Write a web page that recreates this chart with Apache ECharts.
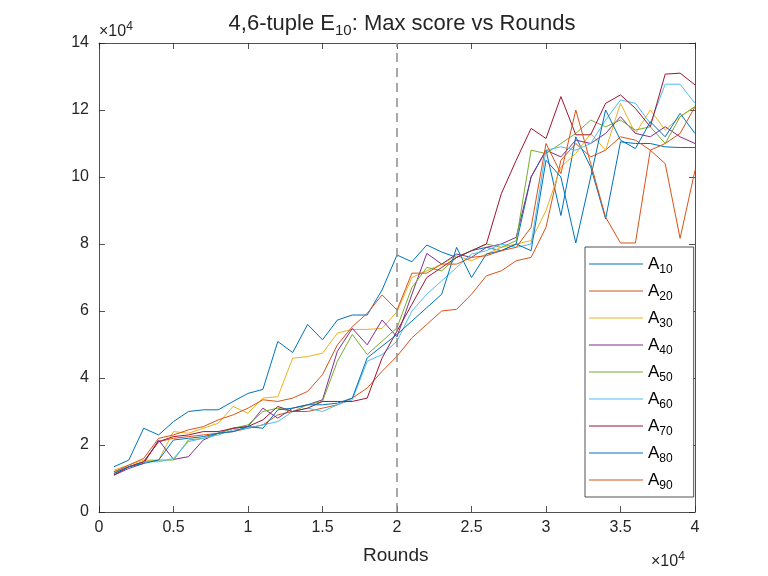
<!DOCTYPE html>
<html lang="en">
<head>
    <meta charset="UTF-8">
    <title>Max score vs Rounds</title>
    <script src="https://cdn.jsdelivr.net/npm/echarts@6/dist/echarts.min.js"></script>
    <style>
        html, body {margin: 0; padding: 0; background: #fff;}
        #main {width: 768px; height: 576px;}
    </style>
</head>
<body>
<div id="main"></div>
<script>
    // rounds, in thousands
    var rounds = [1, 2, 3, 4, 5, 6, 7, 8, 9, 10, 11, 12, 13, 14, 15, 16, 17, 18, 19, 20,
        21, 22, 23, 24, 25, 26, 27, 28, 29, 30, 31, 32, 33, 34, 35, 36, 37, 38, 39, 40];

    // max score, in thousands
    var a10 = [13.5, 15.5, 25, 23, 27, 30, 30.5, 30.5, 33, 35.4, 36.6, 50.9, 47.6, 56, 51.4, 57.3, 58.8, 58.8, 66.3, 76.7,
        74.7, 79.7, 77.6, 76, 78, 79, 78, 80, 100, 108, 88.5, 112, 103, 87.5, 110.5, 110, 110, 109, 108.8, 108.8];
    var a20 = [11.5, 13.5, 15, 21, 22, 22.5, 23, 23.5, 24, 25, 26, 29, 30, 30, 31, 32, 34, 37, 42, 46.5,
        52, 56, 60, 60.5, 65, 70.5, 72, 75, 76, 85, 105, 110, 106, 108, 112, 111, 108, 110, 113, 121];
    var a30 = [12.5, 14, 15.5, 15.5, 24, 23.5, 25, 26.5, 31.5, 29.5, 34, 34.4, 45.9, 46.4, 47.4, 53.4, 54.5, 54.5, 54.8, 59.8,
        70, 72, 74, 76.5, 75, 77, 79, 80, 81, 90, 103, 107, 113, 108, 122, 113, 120, 114, 118, 121];
    var a40 = [11, 13, 14.5, 21.5, 15.7, 16.5, 21.5, 23.5, 25, 25.5, 31, 28, 31, 32, 33.5, 48, 54.8, 49.9, 57.3, 52.3,
        65, 77.2, 74, 77, 76, 79, 80, 82, 100, 108, 106, 111, 110, 113, 118, 113, 112, 115, 112, 110];
    var a50 = [12, 13.5, 15, 15.5, 15.5, 21.5, 22, 23.5, 25, 26, 30, 31, 30, 32, 33, 45, 53, 47, 51, 55,
        67, 73, 72, 76, 78, 80, 79, 81, 108, 107, 110, 113, 117, 115, 117, 114, 115, 110, 118, 121];
    var a60 = [12, 13.5, 15, 15, 16, 21, 22, 23, 24.5, 25, 26, 27, 30, 31, 30, 32, 33.5, 45, 47, 51,
        60, 65, 69, 73, 77, 78, 80, 79, 80, 108, 109, 108, 110, 117, 123, 122, 116, 127.7, 127.7, 122];
    var a70 = [11, 13.5, 15, 21, 22.5, 23, 24, 24, 25, 25.5, 27.5, 31.5, 30, 31, 33, 33, 33, 34, 46, 54,
        62, 70, 73, 76, 78, 80, 95, 105, 114.5, 111.5, 124, 112.6, 112.6, 122, 124.5, 120.5, 115, 130.7, 131, 127.5];
    var a80 = [11.5, 13.5, 14.5, 15.5, 21.5, 22, 22.5, 23.5, 24, 25.5, 25, 30.5, 31, 32, 32, 32.5, 34, 46, 49.5, 53,
        57, 61, 65, 79, 70, 77, 78, 80, 78, 105, 100, 80.3, 100, 120, 111, 108.5, 116.5, 112, 119, 113];
    var a90 = [12, 14, 16, 22, 23, 24.5, 25.5, 27.5, 29, 31, 33.5, 33, 34, 36, 41, 49.9, 55.3, 59.3, 64.8, 60.3,
        71.3, 71.3, 74, 74, 76, 76.5, 78, 79, 85, 110, 101, 120, 104, 88, 80.3, 80.3, 108, 104, 81.7, 102];

    var seriesNames = ['10', '20', '30', '40', '50', '60', '70', '80', '90'];
    var seriesValues = [a10, a20, a30, a40, a50, a60, a70, a80, a90];
    var colors = ['#0072BD', '#D95319', '#EDB120', '#7E2F8E', '#77AC30', '#4DBEEE', '#A2142F', '#0072BD', '#D95319'];

    var xTicks = ['0', '0.5', '1', '1.5', '2', '2.5', '3', '3.5', '4'];
    var yTicks = ['0', '2', '4', '6', '8', '10', '12', '14'];

    var font = 'Liberation Sans, Arial, Helvetica, sans-serif';
    var ink = '#262626';

    var series = [];
    for (var i = 0; i < seriesNames.length; i++) {
        var pts = [];
        for (var j = 0; j < rounds.length; j++) {
            pts.push([rounds[j], seriesValues[i][j]]);
        }
        series.push({
            name: seriesNames[i],
            type: 'line',
            data: pts,
            symbol: 'none',
            lineStyle: {width: 1, color: colors[i]},
            itemStyle: {color: colors[i]},
            z: 3
        });
    }
    // dashed marker at 2 x 10^4
    series[0].markLine = {
        silent: true,
        symbol: 'none',
        label: {show: false},
        lineStyle: {color: '#8c8c8c', type: [9, 6], width: 1.5},
        data: [{xAxis: 20}]
    };

    function xAxisDef(pos, labels) {
        return {
            type: 'value', position: pos, min: 0, max: 40, interval: 5,
            axisLine: {show: true, onZero: false, lineStyle: {color: ink, width: 0.8}},
            axisTick: {show: true, inside: true, length: 6, lineStyle: {color: ink, width: 0.8}},
            axisLabel: {
                show: labels, color: ink, fontFamily: font, fontSize: 16, margin: 8,
                formatter: function (v) { return xTicks[Math.round(v / 5)]; }
            },
            splitLine: {show: false}
        };
    }
    function yAxisDef(pos, labels) {
        return {
            type: 'value', position: pos, min: 0, max: 140, interval: 20,
            axisLine: {show: true, onZero: false, lineStyle: {color: ink, width: 0.8}},
            axisTick: {show: true, inside: true, length: 6, lineStyle: {color: ink, width: 0.8}},
            axisLabel: {
                show: labels, color: ink, fontFamily: font, fontSize: 16, margin: 10,
                formatter: function (v) { return yTicks[Math.round(v / 20)]; }
            },
            splitLine: {show: false}
        };
    }

    var myChart = echarts.init(document.getElementById('main'));

    var option = {
        backgroundColor: '#fff',
        animation: false,
        title: {
            text: '{t|4,6-tuple E}{s|10}{t|: Max score vs Rounds}',
            left: 397, top: 5, textAlign: 'center',
            textStyle: {
                rich: {
                    t: {fontFamily: font, fontSize: 22, fontWeight: 'normal', color: ink, lineHeight: 28},
                    s: {fontFamily: font, fontSize: 15, fontWeight: 'normal', color: ink, lineHeight: 28, padding: [13, 0, 0, 0]}
                }
            }
        },
        grid: {left: 99, right: 73, top: 43, bottom: 64, containLabel: false},
        xAxis: [xAxisDef('bottom', true), xAxisDef('top', false)],
        yAxis: [yAxisDef('left', true), yAxisDef('right', false)],
        legend: {
            orient: 'vertical',
            left: 585, top: 247,
            padding: [5, 21, 5, 4],
            itemWidth: 54, itemHeight: 1.2, itemGap: 3,
            backgroundColor: '#fff',
            borderColor: ink, borderWidth: 0.8,
            icon: 'rect',
            formatter: function (name) { return '{a|A}{s|' + name + '}'; },
            textStyle: {
                rich: {
                    a: {fontFamily: font, fontSize: 17, color: '#000', lineHeight: 21},
                    s: {fontFamily: font, fontSize: 12, color: '#000', lineHeight: 21, padding: [12, 0, 0, 0]}
                }
            },
            data: seriesNames
        },
        graphic: [
            {
                type: 'text', left: 99, top: 21,
                style: {
                    text: '{m|\u00d710}{e|4}',
                    rich: {
                        m: {fontFamily: font, fontSize: 16, fill: ink, lineHeight: 20},
                        e: {fontFamily: font, fontSize: 12, fill: ink, lineHeight: 20, padding: [0, 0, 9, 0]}
                    }
                }
            },
            {
                type: 'text', left: 651, top: 551,
                style: {
                    text: '{m|\u00d710}{e|4}',
                    rich: {
                        m: {fontFamily: font, fontSize: 16, fill: ink, lineHeight: 20},
                        e: {fontFamily: font, fontSize: 12, fill: ink, lineHeight: 20, padding: [0, 0, 9, 0]}
                    }
                }
            },
            {
                type: 'text', left: 363, top: 546,
                style: {text: 'Rounds', fontFamily: font, fontSize: 19, fill: ink}
            }
        ],
        series: series
    };

    myChart.setOption(option);
</script>
</body>
</html>
